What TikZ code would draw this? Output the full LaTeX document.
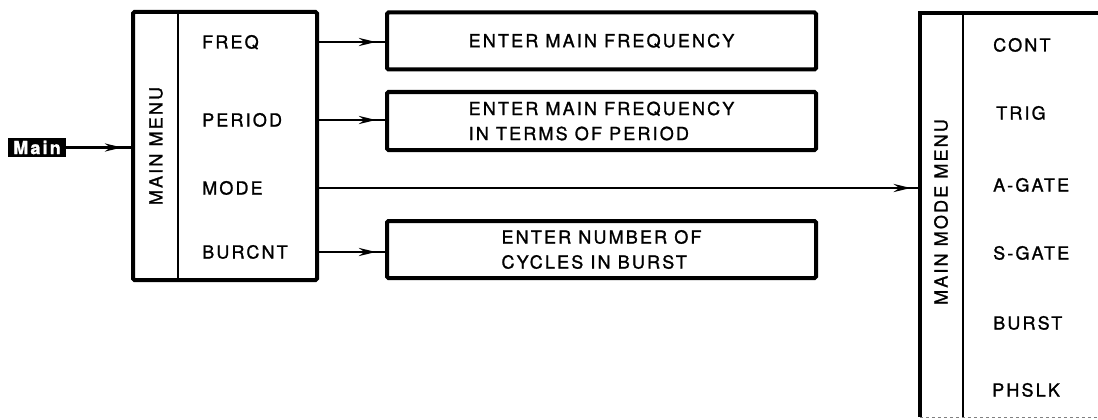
\documentclass[tikz,border=0pt]{standalone}
\usepackage{fontspec}
\setmainfont{TeX Gyre Heros}[LetterSpace=12, FakeBold=1.3]
\usetikzlibrary{arrows.meta,positioning,decorations.markings}

\tikzset{
  frame/.style={draw, line width=4pt, rounded corners=1.5pt, inner sep=0pt},
  divider/.style={line width=2.2pt},
  entrybox/.style={frame, minimum width=429pt, align=left,
    font=\fontsize{18}{25}\selectfont},
  itemlabel/.style={anchor=west, inner sep=0pt, text height=13pt, text depth=0pt,
    font=\fontsize{18}{22}\selectfont},
  menutitle/.style={rotate=90, inner sep=0pt, font=\fontsize{18}{22}\selectfont},
  flow/.style={line width=2.8pt, postaction={decorate},
    decoration={markings, mark=at position -9pt with
      {\arrow{Stealth[length=17pt,width=8pt]}}}}
}

\begin{document}
\begin{tikzpicture}[x=1pt, y=-1pt]
    \useasboundingbox (0,0) rectangle (1098,420);

    % input tag
    \node[fill=black, text=white, inner sep=0pt, minimum width=58pt, minimum height=19pt,
          font=\bfseries\fontsize{18}{19}\selectfont] (mainlabel) at (37,147.5) {Main};

    % main menu
    \node[frame, minimum width=184pt, minimum height=268pt] (mainmenu) at (225,146) {};
    \draw[divider] (178,12) -- (178,280);
    \node[menutitle] (mainmenutitle) at (156,146) {MAIN MENU};

    \node[itemlabel] (freq)   at (202,42)  {FREQ};
    \node[itemlabel] (period) at (202,120) {PERIOD};
    \node[itemlabel] (mode)   at (202,188) {MODE};
    \node[itemlabel] (burcnt) at (202,252) {BURCNT};

    % entry boxes
    \node[entrybox, minimum height=57pt] (freqbox)   at (601.5,41)    {ENTER MAIN FREQUENCY};
    \node[entrybox, minimum height=58pt] (periodbox) at (601.5,121)   {ENTER MAIN FREQUENCY\\IN TERMS OF PERIOD};
    \node[entrybox, minimum height=57pt] (burstbox)  at (601.5,249.5) {ENTER NUMBER OF\\CYCLES IN BURST};

    % main mode menu (runs off the right edge)
    \node[inner sep=0pt, minimum width=210pt, minimum height=404pt] (modemenu) at (1025,215) {};
    \draw[line width=4pt] (modemenu.south west) |- (modemenu.north east);
    \draw[line width=0.8pt, gray, dashed] (modemenu.south west) -- (modemenu.south east);
    \draw[line width=1.8pt] (963,13) -- (963,417);
    \node[menutitle] (modetitle) at (941,212) {MAIN MODE MENU};

    \node[itemlabel] (cont)   at (993,45)  {CONT};
    \node[itemlabel] (trig)   at (996,113) {TRIG};
    \node[itemlabel] (agate)  at (993,185) {A-GATE};
    \node[itemlabel] (sgate)  at (993,253) {S-GATE};
    \node[itemlabel] (burst)  at (993,323) {BURST};
    \node[itemlabel] (phslk)  at (992,390) {PHSLK};

    % connectors
    \draw[flow] (mainlabel.east) -- (mainlabel.east -| mainmenu.west);
    \draw[flow] (freq -| mainmenu.east) -- (freq -| freqbox.west);
    \draw[flow] (period -| mainmenu.east) -- (period -| periodbox.west);
    \draw[flow] (mode -| mainmenu.east) -- (mode -| modemenu.west);
    \draw[flow] (burcnt -| mainmenu.east) -- (burcnt -| burstbox.west);
\end{tikzpicture}
\end{document}
